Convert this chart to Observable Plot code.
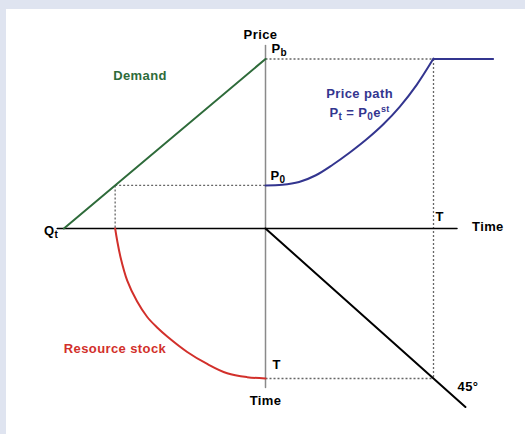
<!DOCTYPE html>
<html><head><meta charset="utf-8">
<script src="https://cdn.jsdelivr.net/npm/d3@7"></script>
<script src="https://cdn.jsdelivr.net/npm/@observablehq/plot@0.6"></script>
<style>
html,body{margin:0;padding:0;background:#dfe4f0;width:525px;height:434px;overflow:hidden}
#frame{position:absolute;left:6px;top:9px;width:519px;height:425px;background:#fff}
#frame svg text{letter-spacing:0.4px}
</style></head><body><div id="frame"></div>
<script>
// Key values (abstract diagram units; origin = price/time axes crossing)
const Pb = 1.13;      // backstop price
const P0 = 0.287;     // initial price
const T = 1;          // exhaustion time
const Qt = -1.2;      // demand choke quantity
const Q0 = -0.895;    // quantity demanded at P0 (initial stock)

// Demand curve (quantity to the left, price up)
const demandQ = [Qt, 0];
const demandP = [0, Pb];

// Price path over time
const priceT = [0, 0.1, 0.2, 0.3, 0.4, 0.5, 0.6, 0.7, 0.8, 0.9, 1.0];
const priceP = [0.287, 0.291, 0.31, 0.355, 0.425, 0.505, 0.593, 0.693, 0.813, 0.958, 1.133];
const ceilingT = [T, 1.355];
const ceilingP = [Pb, Pb];

// Resource stock (quantity left, time down)
const stockQ = [-0.895, -0.883, -0.863, -0.823, -0.764, -0.704, -0.645, -0.585, -0.466, -0.347, -0.228, -0.109, 0];
const stockTime = [0, -0.08, -0.191, -0.347, -0.487, -0.59, -0.66, -0.72, -0.823, -0.903, -0.965, -0.991, -1];

// 45-degree line (time right -> time down)
const diagT = [0, 1.19];
const diagTime = [0, -1.19];

// Axis extents
const axisX = [-1.24, 1.14];
const axisY = [-1.06, 1.22];

// Texts
const axisTitles = ["Price", "Time", "Time"];
const levelLabels = ["P_{b}", "P_{0}", "Q_{t}", "T", "T", "45°"];
const curveLabels = ["Demand", "Price path", "P_{t} = P_{0}e^{st}", "Resource stock"];

const green = "#2e6b3a", blue = "#33358f", red = "#d2302b";
const font = {fontFamily: "'Liberation Sans', Arial, sans-serif", fontSize: 13, fontWeight: "bold", lineAnchor: "bottom"};
const lab = (str, x, y, opts) => Plot.text([str], {x: [x], y: [y], text: [str], ...font, fill: "black", ...opts});
const pts = (xs, ys) => xs.map((x, i) => ({x, y: ys[i]}));

const dotted = {
  x1: [0, Q0, Q0, T, 0],
  y1: [Pb, P0, P0, Pb, -T],
  x2: [T, 0, Q0, T, T],
  y2: [Pb, P0, 0, -T, -T]
};

const chart = Plot.plot({
  width: 519,
  height: 425,
  margin: 0,
  x: {domain: [-1.5417, 1.5476], axis: null},
  y: {domain: [-1.3733, 1.46], axis: null},
  style: {background: "white", overflow: "visible"},
  marks: [
    Plot.link({length: 5}, {...dotted, stroke: "#666", strokeWidth: 1.3, strokeDasharray: "2,2"}),
    Plot.line(pts([0, 0], axisY), {x: "x", y: "y", stroke: "#8a8a8a", strokeWidth: 1.5}),
    Plot.line(pts(axisX, [0, 0]), {x: "x", y: "y", stroke: "black", strokeWidth: 1.5}),
    Plot.line(pts(demandQ, demandP), {x: "x", y: "y", stroke: green, strokeWidth: 2}),
    Plot.line(pts(priceT, priceP), {x: "x", y: "y", stroke: blue, strokeWidth: 2, curve: "catmull-rom"}),
    Plot.line(pts(ceilingT, ceilingP), {x: "x", y: "y", stroke: blue, strokeWidth: 2}),
    Plot.line(pts(stockQ, stockTime), {x: "x", y: "y", stroke: red, strokeWidth: 2, curve: "catmull-rom"}),
    Plot.line(pts(diagT, diagTime), {x: "x", y: "y", stroke: "black", strokeWidth: 2}),
    // axis titles
    lab(axisTitles[0], 0, axisY[1], {textAnchor: "middle", dx: -5, dy: -7}),
    lab(axisTitles[1], axisX[1], 0, {textAnchor: "start", dx: 15, dy: 2}),
    lab(axisTitles[2], 0, -T, {textAnchor: "middle", dy: 26}),
    // level labels
    lab(levelLabels[0], 0, Pb, {textAnchor: "start", dx: 6, dy: -6}),
    lab(levelLabels[1], 0, P0, {textAnchor: "start", dx: 5, dy: -5}),
    lab(levelLabels[2], axisX[0], 0, {textAnchor: "end", dx: 1, dy: 6}),
    lab(levelLabels[3], T, 0, {textAnchor: "start", dx: 2, dy: -8}),
    lab(levelLabels[4], 0, -T, {textAnchor: "start", dx: 7, dy: -10}),
    lab(levelLabels[5], T, -T, {textAnchor: "start", dx: 24, dy: 12}),
    // curve labels
    lab(curveLabels[0], -0.747, 0.987, {textAnchor: "middle", fill: green}),
    lab(curveLabels[1], 0.56, 0.867, {textAnchor: "middle", fill: blue}),
    lab(curveLabels[2], 0.56, 0.745, {textAnchor: "middle", fill: blue}),
    lab(curveLabels[3], -0.896, -0.83, {textAnchor: "middle", fill: red})
  ]
});

document.getElementById("frame").appendChild(chart);

// Render _{sub} and ^{sup} notation as real subscript/superscript tspans
d3.select(chart).selectAll("text").each(function () {
  const s = this.textContent;
  if (!/[_^]\{/.test(s)) return;
  this.textContent = "";
  const re = /([_^])\{([^}]*)\}|([^_^]+)/g;
  let m, shift = 0;
  while ((m = re.exec(s))) {
    const ts = document.createElementNS("http://www.w3.org/2000/svg", "tspan");
    if (m[3] !== undefined) {
      ts.textContent = m[3];
      if (shift) ts.setAttribute("dy", -shift);
      shift = 0;
    } else {
      const d = m[1] === "_" ? 3 : -5;
      ts.textContent = m[2];
      ts.setAttribute("font-size", m[1] === "_" ? "10" : "9");
      ts.setAttribute("dy", d - shift);
      shift = d;
    }
    this.appendChild(ts);
  }
});
</script></body></html>
